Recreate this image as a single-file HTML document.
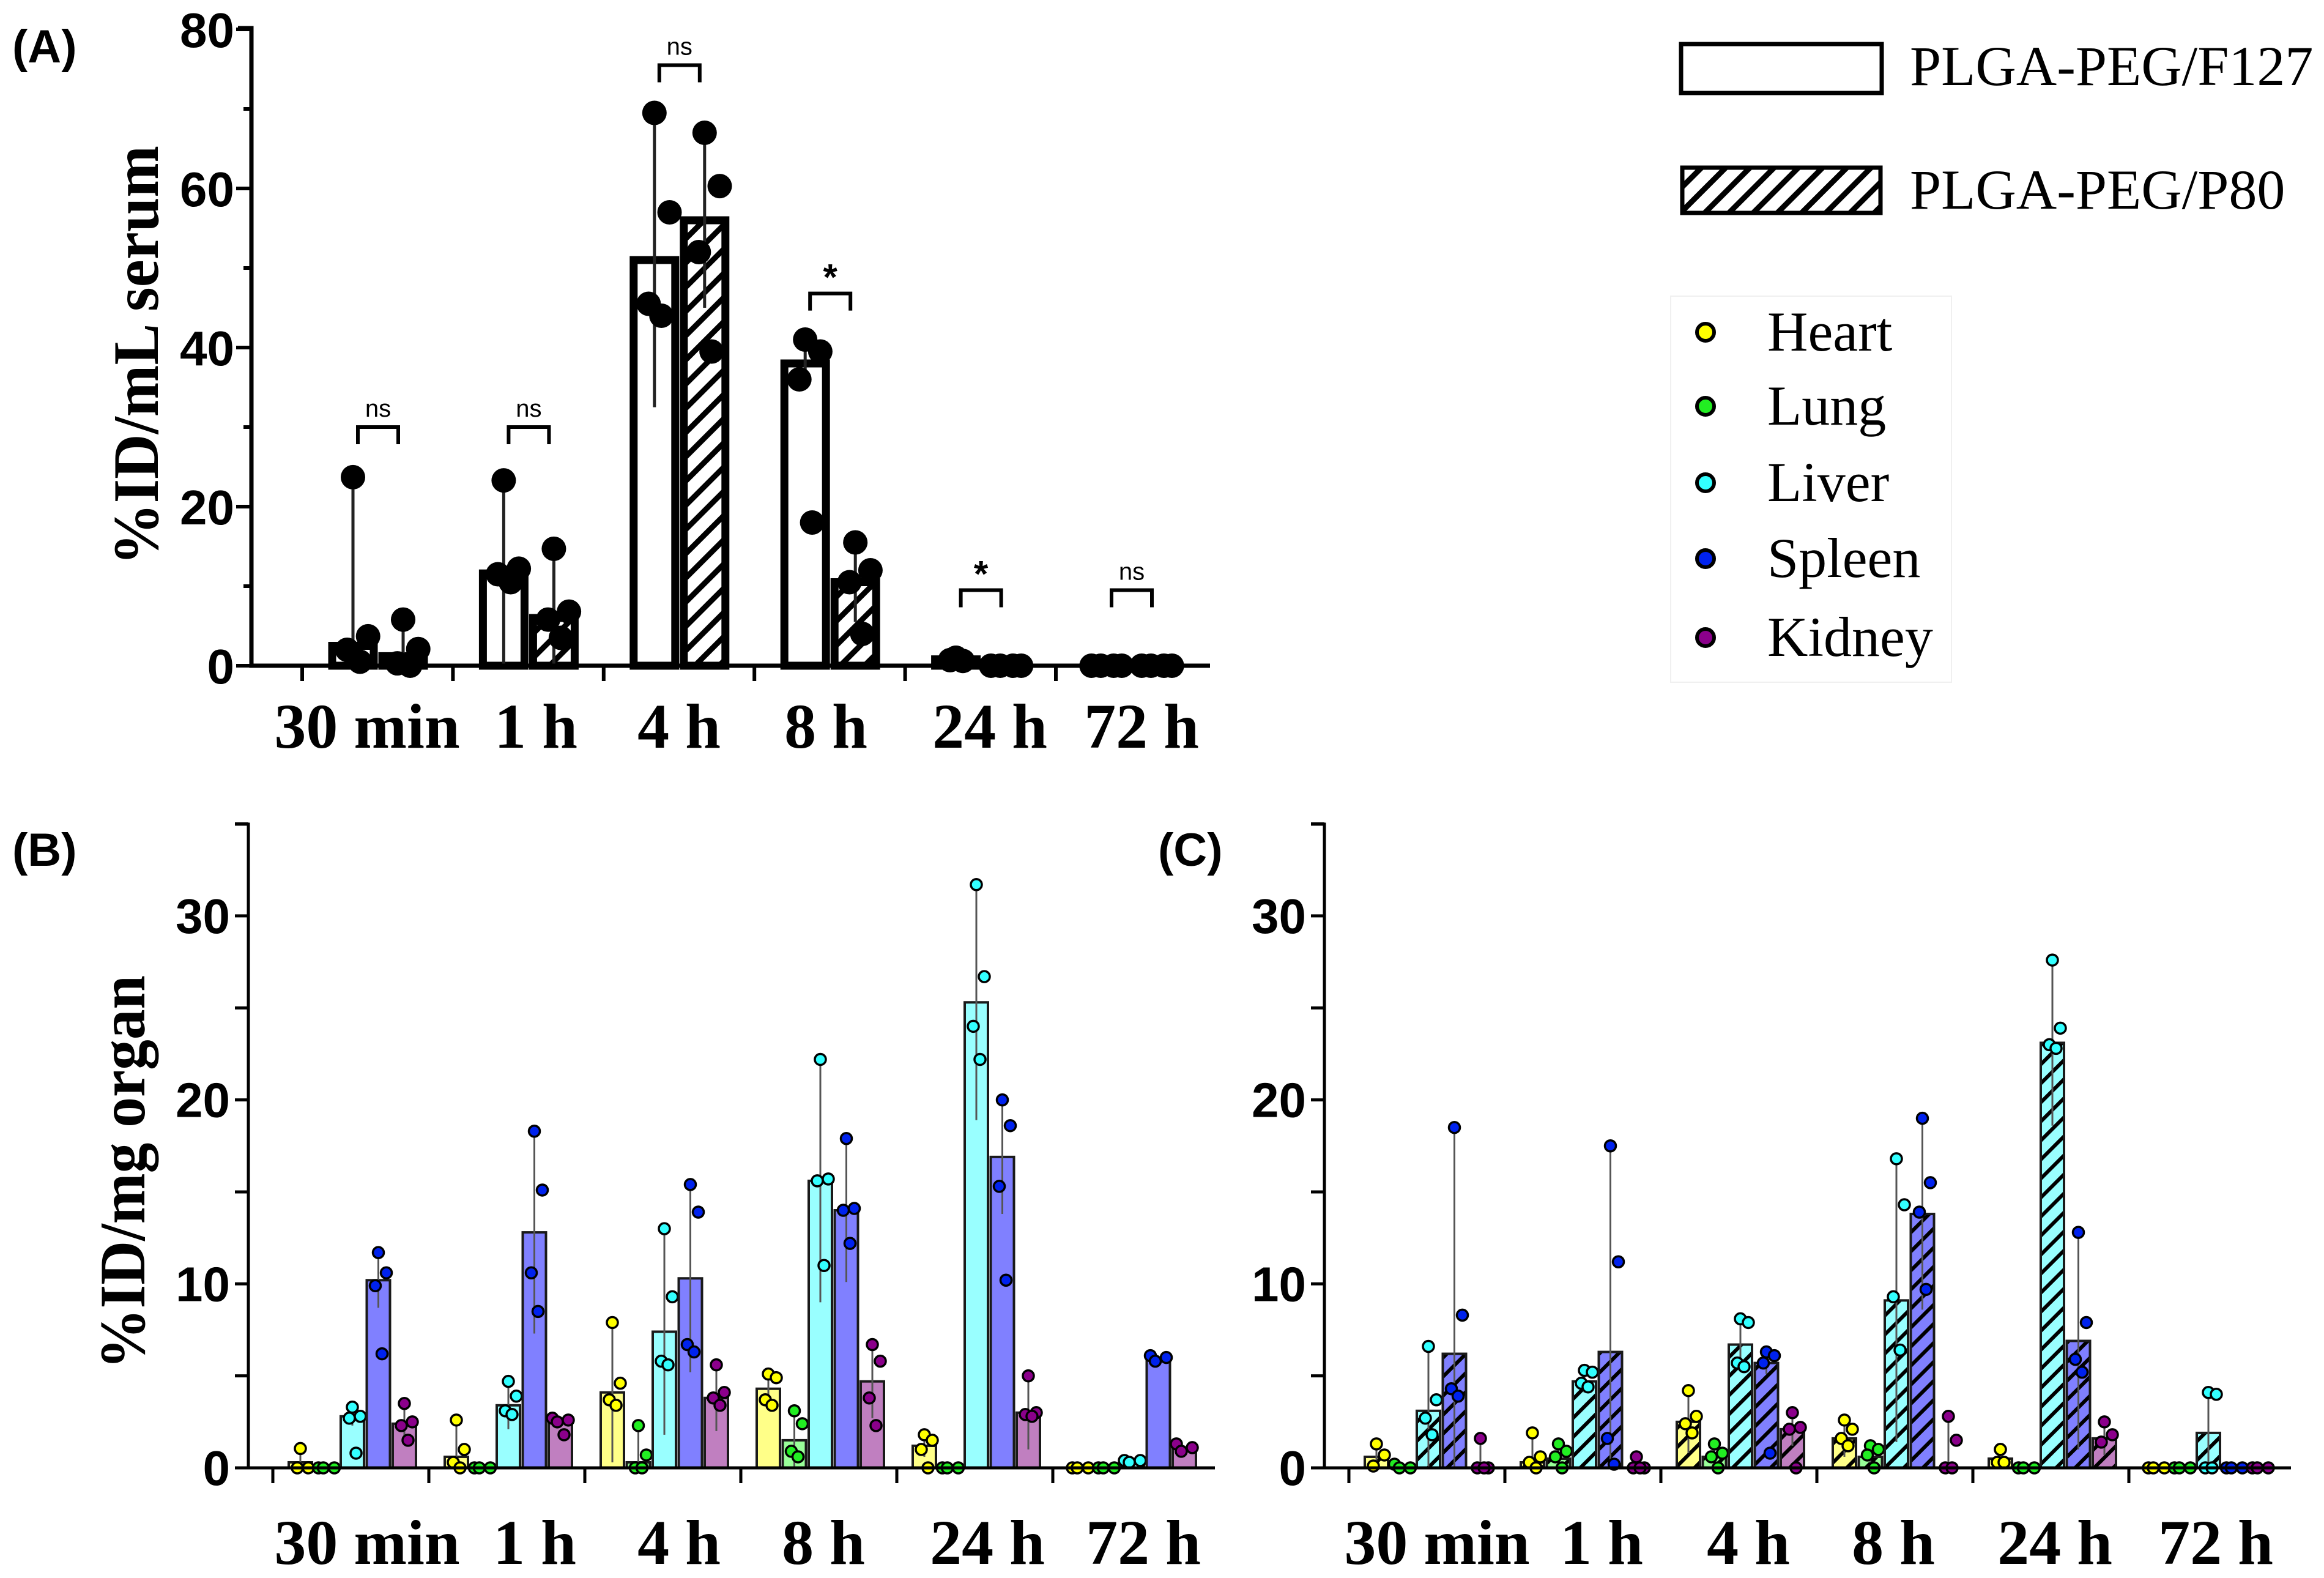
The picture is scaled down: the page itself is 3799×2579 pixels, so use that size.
<!DOCTYPE html>
<html><head><meta charset="utf-8"><style>
html,body{margin:0;padding:0;background:#fff;}
svg{display:block;}
.tick{font-family:"Liberation Sans Narrow","Liberation Sans",sans-serif;font-weight:bold;font-size:80px;}
.cat{font-family:"Liberation Serif",serif;font-weight:bold;font-size:104px;}
.ttl{font-family:"Liberation Serif",serif;font-weight:bold;font-size:106px;}
.pl{font-family:"Liberation Sans",sans-serif;font-weight:bold;font-size:76px;}
.lg{font-family:"Liberation Serif",serif;font-size:92px;}
</style></head><body>
<svg id="fig" width="3799" height="2579" viewBox="0 0 3799 2579" xmlns="http://www.w3.org/2000/svg">
<defs>
<pattern id="hA" patternUnits="userSpaceOnUse" width="28" height="28" patternTransform="rotate(45)"><rect width="28" height="28" fill="#fff"/><rect x="0" y="0" width="9" height="28" fill="#000"/></pattern>
<pattern id="hC0" patternUnits="userSpaceOnUse" width="22" height="22" patternTransform="rotate(45)"><rect width="22" height="22" fill="#ffff88"/><rect width="6" height="22" fill="#000"/></pattern>
<pattern id="hC1" patternUnits="userSpaceOnUse" width="22" height="22" patternTransform="rotate(45)"><rect width="22" height="22" fill="#99ff99"/><rect width="6" height="22" fill="#000"/></pattern>
<pattern id="hC2" patternUnits="userSpaceOnUse" width="22" height="22" patternTransform="rotate(45)"><rect width="22" height="22" fill="#99ffff"/><rect width="6" height="22" fill="#000"/></pattern>
<pattern id="hC3" patternUnits="userSpaceOnUse" width="22" height="22" patternTransform="rotate(45)"><rect width="22" height="22" fill="#8080ff"/><rect width="6" height="22" fill="#000"/></pattern>
<pattern id="hC4" patternUnits="userSpaceOnUse" width="22" height="22" patternTransform="rotate(45)"><rect width="22" height="22" fill="#c07fc0"/><rect width="6" height="22" fill="#000"/></pattern>
</defs>

<text class="pl" x="20" y="102">(A)</text>
<text class="pl" x="20" y="1415">(B)</text>
<text class="pl" x="1893" y="1415">(C)</text>

<text class="ttl" transform="translate(258,581) rotate(-90)" text-anchor="middle" textLength="686" lengthAdjust="spacingAndGlyphs">%ID/mL serum</text>
<text class="ttl" transform="translate(236,1916) rotate(-90)" text-anchor="middle" textLength="644" lengthAdjust="spacingAndGlyphs">%ID/mg organ</text>

<g>
<rect x="2748" y="72" width="328" height="80" fill="#fff" stroke="#000" stroke-width="7"/>
<text class="lg" x="3122" y="139">PLGA-PEG/F127</text>
<rect x="2750" y="274" width="324" height="74" fill="url(#hA)" stroke="#000" stroke-width="7"/>
<text class="lg" x="3122" y="341">PLGA-PEG/P80</text>
</g>
<g>
<rect x="2731" y="484" width="459" height="631" fill="#fff" stroke="#f0f0f0" stroke-width="2"/>
</g>
<g id="gA"></g>
<g id="gB"></g>
<g id="gC"></g>
</svg>
<script>
const NS="http://www.w3.org/2000/svg";
const categories=["30 min","1 h","4 h","8 h","24 h","72 h"];
// Panel A
const aF127Mean=[2.5,11.6,51,38,0.8,0];
const aP80Mean=[1.2,6,56,10.5,0,0];
const aF127Pts=[[23.7,3.7,2,0.5],[23.3,12.2,11.5,10.5],[69.5,57,45.5,44],[41,39.5,36,18],[1,1,0.7,0.6],[0,0,0,0]];
const aP80Pts=[[5.8,2.1,0.3,0],[14.7,6.8,5.8,3.5],[67,60.3,52,39.5],[15.5,12,10.5,4],[0,0,0,0],[0,0,0,0]];
const aSigLevel=[30,30,75.5,46.8,9.5,9.5];
const aSigLabel=["ns","ns","ns","*","*","ns"];
const aTicks=[0,20,40,60,80];
// Panels B, C: organs
const organs=["Heart","Lung","Liver","Spleen","Kidney"];
const bMeans=[[0.3,0.6,4.1,4.3,1.2,0],[0,0,0.3,1.5,0,0],[2.8,3.4,7.4,15.6,25.3,0.3],[10.2,12.8,10.3,14.0,16.9,5.9],[2.4,2.6,3.8,4.7,3.0,1.1]];
const bPts=[
 [[1.05,0,0],[2.6,1.0,0.3,0],[7.9,4.6,3.7,3.4],[5.1,4.9,3.7,3.4],[1.8,1.5,1.0,0],[0,0,0]],
 [[0,0,0],[0,0,0],[2.3,0.7,0,0],[3.1,2.4,0.9,0.6],[0,0,0],[0,0,0]],
 [[3.3,2.8,2.7,0.8],[4.7,3.9,3.1,2.9],[13,9.3,5.8,5.6],[22.2,15.7,15.6,11],[31.7,26.7,24,22.2],[0.4,0.4,0.3]],
 [[11.7,10.6,9.9,6.2],[18.3,15.1,10.6,8.5],[15.4,13.9,6.7,6.3],[17.9,14.1,14.0,12.2],[20,18.6,15.3,10.2],[6.1,6.0,5.8]],
 [[3.5,2.5,2.3,1.5],[2.7,2.6,2.5,1.8],[5.6,4.1,3.8,3.4],[6.7,5.8,3.8,2.3],[5.0,3.0,2.9,2.8],[1.3,1.1,0.9]]];
const cMeans=[[0.6,0.3,2.5,1.6,0.5,0],[0.05,0.5,0.6,0.6,0,0],[3.1,4.7,6.7,9.1,23.1,1.9],[6.2,6.3,5.7,13.8,6.9,0],[0,0,2.1,0,1.6,0]];
const cPts=[
 [[1.3,0.7,0.1],[1.9,0.6,0.3,0],[4.2,2.8,2.4,1.9],[2.6,2.1,1.6,1.2],[1.0,1.0,0.3,0.3],[0,0,0]],
 [[0.2,0,0],[1.3,0.9,0.6,0],[1.3,0.8,0.6,0],[1.2,1.0,0.7,0],[0,0,0],[0,0,0]],
 [[6.6,3.7,2.7,1.8],[5.3,5.2,4.6,4.4],[8.1,7.9,5.7,5.5],[16.8,14.3,9.3,6.4],[27.6,23.9,23.0,22.8],[4.1,4.0,0,0]],
 [[18.5,8.3,4.3,3.9],[17.5,11.2,1.6,0.2],[6.3,6.1,5.7,0.8],[19.0,15.5,13.9,9.7],[12.8,7.9,5.9,5.2],[0,0,0]],
 [[1.6,0,0,0],[0.6,0,0,0],[3.0,2.2,2.1,0],[2.8,1.5,0,0],[2.5,1.8,1.4],[0,0,0]]];
const bcTicks=[0,10,20,30];
const barFill=["#ffff88","#99ff99","#99ffff","#8080ff","#c07fc0"];
const ptFill=["#ffff00","#22ee22","#33ffff","#0022ee","#8b008b"];

function el(tag,attrs,parent,txt){const e=document.createElementNS(NS,tag);for(const k in attrs)e.setAttribute(k,attrs[k]);if(txt!==undefined)e.textContent=txt;parent.appendChild(e);return e;}
const jit=[-13,13,-5,6,0];

// ---------- Panel A ----------
const gA=document.getElementById('gA');
const yA=v=>1088-v*13.0;
const axA=411, tickA0=494, stepA=246.4;
const gcA=i=>tickA0+stepA*i+124;
const labelXA=[600,876,1110,1350,1618,1866];
for(let v=0;v<=80;v+=10){const t=el('line',{x1:v%20?398:386,x2:axA,y1:yA(v),y2:yA(v),stroke:'#000','stroke-width':6},gA);

}
aTicks.forEach(v=>{const t=el('text',{x:383,y:yA(v)+29,'text-anchor':'end',class:'tick'},gA,String(v));

});
categories.forEach((c,i)=>{
 const tk=el('line',{x1:tickA0+stepA*i,x2:tickA0+stepA*i,y1:1088,y2:1113,stroke:'#000','stroke-width':6},gA);
 
 
 const t=el('text',{x:labelXA[i],y:1222,'text-anchor':'middle',class:'cat'},gA,c);
 
 
 [[aF127Mean,aF127Pts,-41,'#fff'],[aP80Mean,aP80Pts,41,'url(#hA)']].forEach(([m,p,off,fill],s)=>{
  const cx=gcA(i)+off, mv=m[i], mx=Math.max(...p[i]);
  if(mv>0){const r=el('rect',{x:cx-34,y:yA(mv),width:68,height:yA(0)-yA(mv),fill:fill,stroke:'#000','stroke-width':13},gA);
  
  }
  if(mx>mv){const lo=Math.max(0,2*mv-mx);const l=el('line',{x1:cx,x2:cx,y1:yA(mx),y2:yA(lo),stroke:'#222','stroke-width':5},gA);
  
  }
  p[i].forEach((v,k)=>{const d=el('circle',{cx:cx+(v===mx&&mx>mv?0:jit[k]*1.9),cy:yA(v),r:20,fill:'#000'},gA);
  
  });
 });
 const by=yA(aSigLevel[i]);
 const br=el('path',{d:`M${gcA(i)-33},${by+28}V${by}H${gcA(i)+33}V${by+28}`,fill:'none',stroke:'#000','stroke-width':6},gA);
 
 
 const st=aSigLabel[i]==='*';
 const sl=el('text',{x:gcA(i),y:by+(st?-6:-17),'text-anchor':'middle','font-family':'Liberation Sans, sans-serif','font-size':st?60:40,'font-weight':st?'bold':'normal'},gA,aSigLabel[i]);
 
 
});
const axlA=el('path',{d:`M${axA-22},46H${axA}V1088H1978`,fill:'none',stroke:'#000','stroke-width':7},gA);



// ---------- Panels B & C ----------
const yBC=v=>2399-v*30.07;
function organPanel(g,ax,means,pts,hatched,labelX,key){
 const tick0=ax+40, step=255;
 for(let v=0;v<=35;v+=5){const t=el('line',{x1:ax-22,x2:ax,y1:yBC(v),y2:yBC(v),stroke:'#000','stroke-width':5},g);
 
 }
 bcTicks.forEach(v=>{const t=el('text',{x:ax-30,y:yBC(v)+28,'text-anchor':'end',class:'tick'},g,String(v));
 
 });
 categories.forEach((c,i)=>{
  const tx=tick0+step*i;
  const tk=el('line',{x1:tx,x2:tx,y1:2399,y2:2424,stroke:'#000','stroke-width':5},g);
  
  
  const t=el('text',{x:labelX[i],y:2556,'text-anchor':'middle',class:'cat'},g,c);
  
  
  organs.forEach((o,j)=>{
   const cx=tx+45+j*42.5, mv=means[j][i], p=pts[j][i], mx=Math.max(...p);
   if(mv>0){const r=el('rect',{x:cx-19,y:yBC(mv),width:38,height:yBC(0)-yBC(mv),fill:hatched?'url(#hC'+j+')':barFill[j],stroke:'#1a1a1a','stroke-width':4},g);
   
   }
   if(mx>mv+0.3){const lo=Math.max(0,2*mv-mx);const l=el('line',{x1:cx,x2:cx,y1:yBC(mx),y2:yBC(lo),stroke:'#555','stroke-width':3},g);
   
   }
   p.forEach((v,k)=>{const d=el('circle',{cx:cx+(v===mx&&mx>mv+0.3?0:jit[k]),cy:yBC(v),r:9,fill:ptFill[j],stroke:'#000','stroke-width':3.5},g);
   
   });
  });
 });
 const a=el('path',{d:`M${ax-22},1347H${ax}V2399H${ax+1580}`,fill:'none',stroke:'#000','stroke-width':5},g);
 
 
}
organPanel(document.getElementById('gB'),406,bMeans,bPts,false,[600,874,1110,1346,1614,1869],'b');
organPanel(document.getElementById('gC'),2165,cMeans,cPts,true,[2349,2618,2858,3095,3359,3622],'c');

// organ legend entries
const lgY=[543,664,789,913,1042];
const svg=document.getElementById('fig');
organs.forEach((o,j)=>{
 const d=el('circle',{cx:2788,cy:lgY[j],r:14,fill:ptFill[j],stroke:'#000','stroke-width':6},svg);
 
 
 const t=el('text',{x:2889,y:lgY[j]+30,class:'lg','font-size':96},svg,o);
 
 
});
</script>
</body></html>
